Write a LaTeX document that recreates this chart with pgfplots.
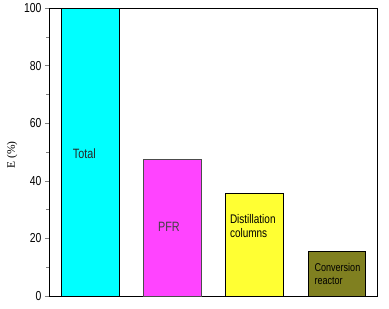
\documentclass[border=0pt]{standalone}
\usepackage{fontspec}
\setmainfont{Liberation Sans}
\newfontfamily\narrowfont[FakeStretch=0.8]{Liberation Sans}
\newfontfamily\serifont{Liberation Serif}
\usepackage{pgfplots}
\pgfplotsset{compat=1.18}
\usetikzlibrary{calc}
\definecolor{cCyan}{RGB}{0,255,255}
\definecolor{cMag}{RGB}{255,68,255}
\definecolor{cYel}{RGB}{255,255,51}
\definecolor{cOli}{RGB}{128,128,32}
\begin{document}
\begin{tikzpicture}
\begin{axis}[
  name=ax,
  scale only axis,
  width=328.7pt, height=288pt,
  xmin=-0.5, xmax=3.5,
  ymin=0, ymax=100,
  xtick=\empty,
  ytick={0,20,40,60,80,100},
  minor y tick num=1,
  ytick pos=left,
  tick align=outside,
  major tick length=4pt,
  minor tick length=2.5pt,
  /pgf/number format/assume math mode=true,
  tick label style={font=\narrowfont\fontsize{13}{13}\selectfont},
  ylabel={E (\%)},
  every axis y label/.style={at={(axis description cs:0,0.49)}, xshift=-37pt, rotate=90, anchor=center, font=\serifont\fontsize{11.5}{11.5}\selectfont},
  axis line style={black, line width=0.8pt},
  clip=false,
]
\addplot[ybar, bar shift=0pt, bar width=0.7, fill=cCyan, draw=black, line width=0.6pt] coordinates {(0,100)};
\addplot[ybar, bar shift=0pt, bar width=0.7, fill=cMag, draw=black!70, line width=0.6pt] coordinates {(1,47.5)};
\addplot[ybar, bar shift=0pt, bar width=0.7, fill=cYel, draw=black, line width=0.6pt] coordinates {(2,35.7)};
\addplot[ybar, bar shift=0pt, bar width=0.7, fill=cOli, draw=black, line width=0.6pt] coordinates {(3,15.4)};
\node[font=\narrowfont\fontsize{13.5}{13.5}\selectfont, text=black!85] at (axis cs:-0.07,49.3) {Total};
\node[font=\narrowfont\fontsize{13.5}{13.5}\selectfont, text=black!75] at (axis cs:0.96,24) {PFR};
\node[font=\narrowfont\fontsize{12.5}{14}\selectfont, align=left, text=black] at (axis cs:1.98,24.3) {Distillation\\columns};
\node[font=\narrowfont\fontsize{11.3}{13}\selectfont, align=left, text=black] at (axis cs:3.01,7.6) {Conversion\\reactor};
\end{axis}
\path ($(ax.south west)+(-49pt,-13pt)$) rectangle ($(ax.north east)+(11.3pt,8pt)$);
\end{tikzpicture}
\end{document}
